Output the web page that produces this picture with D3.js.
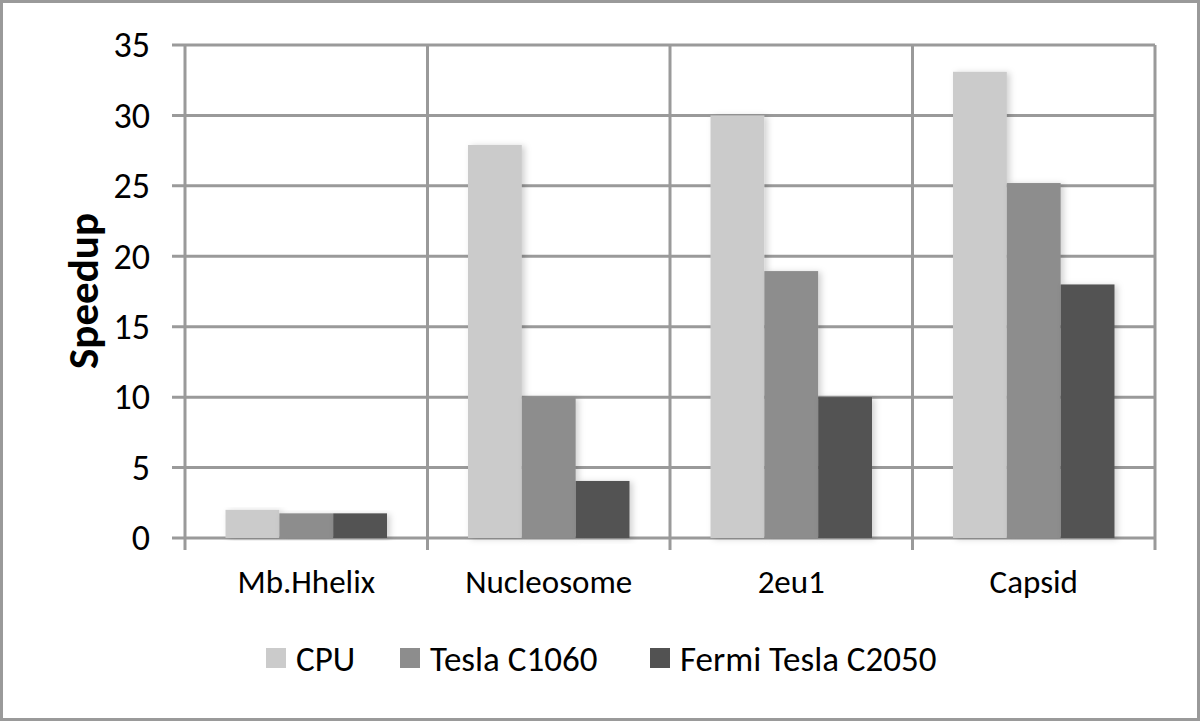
<!DOCTYPE html>
<html>
<head>
<meta charset="utf-8">
<script src="https://cdn.jsdelivr.net/npm/d3@7"></script>
<style>
  html, body { margin: 0; padding: 0; background: #fff; }
  svg { display: block; font-family: Carlito, "Open Sans", "Liberation Sans", sans-serif; }
</style>
</head>
<body>
<div id="chart"></div>
<script>
const categories = ['Mb.Hhelix', 'Nucleosome', '2eu1', 'Capsid'];
const seriesNames = ['CPU', 'Tesla C1060', 'Fermi Tesla C2050'];
const cpuValues = [2.0, 27.9, 30.0, 33.1];
const teslaValues = [1.75, 10.0, 18.95, 25.2];
const fermiValues = [1.75, 4.05, 10.0, 18.0];
const yTicks = [0, 5, 10, 15, 20, 25, 30, 35];

const COLORS = ['#cbcbcb', '#8d8d8d', '#525252'];
const GRID = '#9a9a9a';

const width = 1200;
const height = 721;
const plot = { left: 185, right: 1155, top: 45, bottom: 538 };

const seriesValues = [cpuValues, teslaValues, fermiValues];
const rows = categories.map((c, i) => ({
  category: c,
  values: seriesNames.map((s, j) => ({ series: s, idx: j, value: seriesValues[j][i] }))
}));

const svg = d3.select('#chart').append('svg')
  .attr('width', width)
  .attr('height', height);

const defs = svg.append('defs');
const shadow = defs.append('filter').attr('id', 'shadow')
  .attr('x', '-20%').attr('y', '-10%').attr('width', '150%').attr('height', '120%');
shadow.append('feDropShadow')
  .attr('dx', 3).attr('dy', 1).attr('stdDeviation', 3)
  .attr('flood-color', '#000').attr('flood-opacity', 0.18);

// outer frame
svg.append('rect')
  .attr('x', 1.5).attr('y', 1.5)
  .attr('width', width - 3).attr('height', height - 3)
  .attr('fill', '#fff').attr('stroke', GRID).attr('stroke-width', 3);

const x0 = d3.scaleBand().domain(categories).range([plot.left, plot.right]).padding(0);
const x1 = d3.scaleBand().domain(seriesNames).range([40.5, x0.bandwidth() - 40.5]).padding(0);
const y = d3.scaleLinear().domain([0, 35]).range([plot.bottom, plot.top]);

// horizontal gridlines + left ticks
svg.append('g').selectAll('line').data(yTicks).join('line')
  .attr('x1', plot.left - 13).attr('x2', plot.right)
  .attr('y1', (d) => y(d)).attr('y2', (d) => y(d))
  .attr('stroke', GRID).attr('stroke-width', 3);

// vertical gridlines at category boundaries
const bounds = categories.map((c) => x0(c)).concat([plot.right]);
svg.append('g').selectAll('line').data(bounds).join('line')
  .attr('x1', (d) => d).attr('x2', (d) => d)
  .attr('y1', plot.top).attr('y2', plot.bottom + 12)
  .attr('stroke', GRID).attr('stroke-width', 3);

// bars
const groups = svg.append('g').selectAll('g').data(rows).join('g')
  .attr('transform', (d) => `translate(${x0(d.category)},0)`);
groups.selectAll('rect').data((d) => d.values).join('rect')
  .attr('x', (d) => x1(d.series))
  .attr('width', x1.bandwidth())
  .attr('y', (d) => y(d.value))
  .attr('height', (d) => y(0) - y(d.value))
  .attr('fill', (d) => COLORS[d.idx])
  .attr('filter', 'url(#shadow)');

// y tick labels
svg.append('g').selectAll('text').data(yTicks).join('text')
  .attr('x', 150)
  .attr('y', (d) => y(d))
  .attr('dy', '0.34em')
  .attr('text-anchor', 'end')
  .attr('font-size', 36)
  .attr('fill', '#000')
  .text((d) => d);

// x labels
svg.append('g').selectAll('text').data(categories).join('text')
  .attr('x', (d) => x0(d) + x0.bandwidth() / 2)
  .attr('y', 593)
  .attr('text-anchor', 'middle')
  .attr('font-size', 33)
  .attr('fill', '#000')
  .text((d) => d);

// y axis title
svg.append('text')
  .attr('transform', `translate(98,291) rotate(-90)`)
  .attr('text-anchor', 'middle')
  .attr('font-size', 43)
  .attr('font-weight', 'bold')
  .attr('fill', '#000')
  .text('Speedup');

// legend
const legendX = [266, 400, 650];
const legend = svg.append('g').selectAll('g').data(seriesNames).join('g')
  .attr('transform', (d, i) => `translate(${legendX[i]},658)`);
legend.append('rect')
  .attr('x', 0).attr('y', -10).attr('width', 20).attr('height', 20)
  .attr('fill', (d, i) => COLORS[i]);
legend.append('text')
  .attr('x', 30).attr('y', 0).attr('dy', '0.36em')
  .attr('font-size', 35)
  .attr('fill', '#000')
  .text((d) => d);
</script>
</body>
</html>
